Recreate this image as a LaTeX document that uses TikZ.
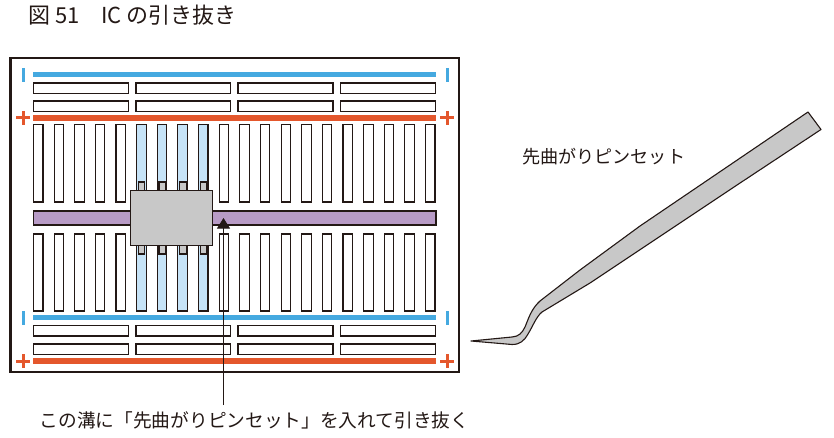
\documentclass[tikz,border=0pt]{standalone}
\usepackage{xcolor}
\usepackage{fontspec}
\setmainfont{Noto Sans CJK JP}
\usetikzlibrary{arrows.meta}
\definecolor{railblue}{HTML}{45A9E0}
\definecolor{railred}{HTML}{E4572C}
\definecolor{grooveviolet}{HTML}{B89BC6}
\definecolor{rowblue}{HTML}{C6E3F7}
\definecolor{bodygray}{HTML}{C8C8C8}
\definecolor{inkdark}{HTML}{231815}
\tikzset{pointer/.style = {-{Triangle[length=10.5pt,width=13pt]},line width=1pt,inkdark}}

\begin{document}
\begin{tikzpicture}[x=1pt,y=-1pt,
    slot/.style={draw=inkdark,line width=1.1pt,fill=white},
    pin/.style={draw=inkdark,line width=1.1pt,fill=bodygray},
    blue rail/.style={railblue,line width=5pt},
    red rail/.style={railred,line width=5.5pt},
    sign/.style={line width=3pt},
    label/.style={font=\fontsize{18.7pt}{20pt}\selectfont,text=inkdark,inner sep=0pt}]
    \useasboundingbox (0,0) rectangle (834,438);

    \node[label,anchor=west,font=\fontsize{22pt}{24pt}\selectfont] (title) at (28,15) {図 51\hspace{1em}IC の引き抜き};

    \draw[draw=inkdark,line width=2.3pt] (10.5,58) rectangle (459,372);

    % power rails
    \draw[blue rail] (33,74.5) -- (436,74.5);
    \draw[red rail] (33,118) -- (436,118);
    \draw[blue rail] (33,317.5) -- (436,317.5);
    \draw[red rail] (33,361) -- (436,361);

    \foreach \y in {75,318} {
        \draw[sign,railblue] (23.5,\y-7) -- (23.5,\y+7);
        \draw[sign,railblue] (447,\y-7) -- (447,\y+7);
    }
    \foreach \y in {118,361} {
        \foreach \x in {23,447} {
            \draw[sign,railred] (\x-7,\y) -- (\x+7,\y);
            \draw[sign,railred] (\x,\y-7) -- (\x,\y+7);
        }
    }

    % short rows
    \foreach \y in {83,101,325.5,344} {
        \draw[slot] (33.5,\y) rectangle (128.5,\y+10.5);
        \draw[slot] (136,\y) rectangle (230.5,\y+10.5);
        \draw[slot] (238,\y) rectangle (333,\y+10.5);
        \draw[slot] (340.5,\y) rectangle (435.5,\y+10.5);
    }

    % long slots
    \foreach \i in {0,...,19} {
        \pgfmathsetmacro{\xa}{33.5+20.63*\i}
        \draw[slot] (\xa,124.5) rectangle (\xa+9.5,202);
        \draw[slot] (\xa,234) rectangle (\xa+9.5,311);
    }
    \foreach \i in {5,...,8} {
        \pgfmathsetmacro{\xa}{33.5+20.63*\i}
        \draw[slot,fill=rowblue] (\xa,124.5) rectangle (\xa+9.5,202);
        \draw[slot,fill=rowblue] (\xa,234) rectangle (\xa+9.5,311);
    }

    \draw[slot,fill=grooveviolet] (33.5,211) rectangle (436,225);

    % IC
    \foreach \i in {5,...,8} {
        \pgfmathsetmacro{\xa}{35.2+20.63*\i}
        \draw[pin] (\xa,182) rectangle (\xa+6.5,191);
        \draw[pin] (\xa,245) rectangle (\xa+6.5,254);
    }
    \node[draw=inkdark,line width=1.1pt,fill=bodygray,minimum width=82pt,minimum height=54.5pt,inner sep=0pt] (chip) at (171.8,218) {};

    \node[label] (note) at (254.5,420) {この溝に「先曲がりピンセット」を入れて引き抜く};
    \coordinate (groove) at (223.5,218);
    \coordinate (foot) at (223.5,405);
    \draw[pointer] (foot) -- (groove);

    % tweezers
    \node[label,anchor=west,font=\fontsize{18.1pt}{20pt}\selectfont] (tool) at (522,157) {先曲がりピンセット};
    \draw[draw=inkdark,line width=1.1pt,fill=bodygray,line join=round]
        (471,341) -- (512,337)
        .. controls (519,336.5) and (522,333) .. (525,327)
        .. controls (528,320) and (531,309) .. (540,301)
        -- (580,270) -- (640,226) -- (808,112) -- (821,129.5) -- (731,189) -- (590,283) -- (542,312)
        .. controls (536,317) and (533,326) .. (528,334)
        .. controls (524,341) and (520,344.5) .. (512,344.5)
        -- cycle;
\end{tikzpicture}
\end{document}
